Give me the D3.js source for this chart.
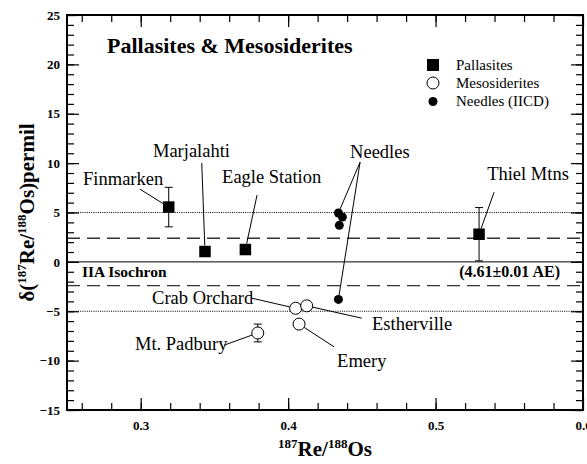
<!DOCTYPE html>
<meta charset="utf-8">
<style>
body { margin: 0; background: #fff; }
svg text { font-family: "Liberation Serif", "Times New Roman", serif; fill: #000; }
</style>
<svg width="587" height="464"></svg>
<script src="https://d3js.org/d3.v7.min.js"></script>
<script>
// pallasites (filled squares)
var palNames = ["Finmarken", "Marjalahti", "Eagle Station", "Thiel Mtns"];
var palX = [0.319, 0.3436, 0.371, 0.5295];
var palY = [5.55, 1.05, 1.25, 2.8];
var palErr = [2.0, 0, 0, 2.7];

// mesosiderites (open circles)
var mesoNames = ["Mt. Padbury", "Crab Orchard", "Emery", "Estherville"];
var mesoX = [0.3794, 0.4051, 0.4074, 0.4126];
var mesoY = [-7.2, -4.7, -6.3, -4.45];
var mesoErr = [0.9, 0, 0, 0];

// Needles (IICD), small filled circles
var needX = [0.4341, 0.4368, 0.4347, 0.4341];
var needY = [4.95, 4.55, 3.7, -3.8];

var xTicks = [0.3, 0.4, 0.5, 0.6];
var yTicks = [-15, -10, -5, 0, 5, 10, 15, 20, 25];
var dottedLevels = [5, -5];
var dashedLevels = [2.4, -2.4];

// annotation text: [label, text x, text y, leader start x, leader start y, target]
var notes = [
  ["Finmarken",     0.2609,  7.77, 0.2995,  7.36, ["p", 0]],
  ["Marjalahti",    0.3083, 10.6,  0.3414, 10.0,  ["p", 1]],
  ["Eagle Station", 0.3552,  7.97, 0.3789,  6.76, ["p", 2]],
  ["Needles",       0.442,  10.5,  0.4488, 10.1,  ["n", 0]],
  ["",              0,       0,    0.4488, 10.1,  ["n", 3]],
  ["Thiel Mtns",    0.535,   8.27, 0.5397,  7.06, ["p", 3]],
  ["Crab Orchard",  0.3077, -4.28, 0.3755, -3.68, ["m", 1]],
  ["Mt. Padbury",   0.2961, -8.94, 0.3565, -8.44, ["m", 0]],
  ["Estherville",   0.4569, -6.92, 0.4499, -5.7,  ["m", 3]],
  ["Emery",         0.4332,-10.66, 0.4311, -8.6,  ["m", 2]]
];

var serif = "'Liberation Serif', 'Times New Roman', serif";
var svg = d3.select("svg"),
    margin = {top: 15, right: 4, bottom: 54, left: 67},
    width = +svg.attr("width") - margin.left - margin.right,
    height = +svg.attr("height") - margin.top - margin.bottom;

var g = svg.append("g").attr("transform", "translate(" + margin.left + "," + margin.top + ")");
var x = d3.scaleLinear().domain([0.25, 0.6]).range([0, width]);
var y = d3.scaleLinear().domain([-15, 25]).range([height, 0]);

var xMinor = d3.range(0.26, 0.6, 0.02).map(function(d) { return +d.toFixed(2); });
var yMinor = d3.range(-15, 26, 1);

// minor ticks (inward on all four sides)
function minorAxis(axis, sc, vals, tr) {
  g.append("g").attr("transform", tr)
    .call(axis(sc).tickValues(vals).tickSize(-7).tickFormat(""))
    .call(function(s) { s.select(".domain").remove(); });
}
minorAxis(d3.axisBottom, x, xMinor, "translate(0," + height + ")");
minorAxis(d3.axisTop, x, xMinor, "translate(0,0)");
minorAxis(d3.axisLeft, y, yMinor, "translate(0,0)");
minorAxis(d3.axisRight, y, yMinor, "translate(" + width + ",0)");

// major ticks
g.append("g").attr("transform", "translate(0," + height + ")")
  .call(d3.axisBottom(x).tickValues(xTicks).tickSize(-12).tickPadding(11).tickFormat(d3.format(".1f")))
  .call(function(s) { s.select(".domain").remove(); });
g.append("g").call(d3.axisTop(x).tickValues(xTicks).tickSize(-12).tickFormat(""))
  .call(function(s) { s.select(".domain").remove(); });
g.append("g")
  .call(d3.axisLeft(y).tickValues(yTicks).tickSize(-12).tickPadding(7).tickFormat(d3.format("d")))
  .call(function(s) { s.select(".domain").remove(); });
g.append("g").attr("transform", "translate(" + width + ",0)")
  .call(d3.axisRight(y).tickValues(yTicks).tickSize(-12).tickFormat(""))
  .call(function(s) { s.select(".domain").remove(); });
g.selectAll(".tick line").attr("stroke", "#000").attr("stroke-width", 1.2);
g.selectAll(".tick text").style("font-family", serif).style("font-weight", "bold").style("font-size", "13px");

// reference lines
g.append("line").attr("x1", 0).attr("x2", width).attr("y1", y(0)).attr("y2", y(0))
  .attr("stroke", "#000").attr("stroke-width", 1);
g.selectAll(".dotted").data(dottedLevels).enter().append("line")
  .attr("x1", 0).attr("x2", width).attr("y1", function(d) { return y(d); }).attr("y2", function(d) { return y(d); })
  .attr("stroke", "#000").attr("stroke-width", 1).attr("stroke-dasharray", "1,1.2");
g.selectAll(".dashed").data(dashedLevels).enter().append("line")
  .attr("x1", 0).attr("x2", width).attr("y1", function(d) { return y(d); }).attr("y2", function(d) { return y(d); })
  .attr("stroke", "#333").attr("stroke-width", 1.4).attr("stroke-dasharray", "13,7");

// frame
g.append("rect").attr("width", width).attr("height", height)
  .attr("fill", "none").attr("stroke", "#000").attr("stroke-width", 2);

// error bars
function errBars(xs, ys, es) {
  xs.forEach(function(xv, i) {
    if (!es[i]) return;
    var cx = x(xv), t = y(ys[i] + es[i]), b = y(ys[i] - es[i]);
    g.append("line").attr("x1", cx).attr("x2", cx).attr("y1", t).attr("y2", b).attr("stroke", "#000");
    [t, b].forEach(function(yy) {
      g.append("line").attr("x1", cx - 4).attr("x2", cx + 4).attr("y1", yy).attr("y2", yy).attr("stroke", "#000");
    });
  });
}
errBars(palX, palY, palErr);
errBars(mesoX, mesoY, mesoErr);

// leaders
var sources = {p: [palX, palY, 6], m: [mesoX, mesoY, 6], n: [needX, needY, 4.5]};
notes.forEach(function(n) {
  var src = sources[n[5][0]], i = n[5][1];
  var px = x(src[0][i]), py = y(src[1][i]);
  var sx = x(n[3]), sy = y(n[4]);
  var dx = sx - px, dy = sy - py, len = Math.sqrt(dx * dx + dy * dy);
  var r = src[2];
  g.append("line").attr("x1", sx).attr("y1", sy)
    .attr("x2", px + dx / len * r).attr("y2", py + dy / len * r)
    .attr("stroke", "#000").attr("stroke-width", 1);
  if (n[0]) {
    g.append("text").attr("x", x(n[1])).attr("y", y(n[2]))
      .style("font-size", "18.5px").text(n[0]);
  }
});

// markers
palX.forEach(function(xv, i) {
  g.append("rect").attr("x", x(xv) - 5.75).attr("y", y(palY[i]) - 5.75)
    .attr("width", 11.5).attr("height", 11.5).attr("fill", "#000");
});
mesoX.forEach(function(xv, i) {
  g.append("circle").attr("cx", x(xv)).attr("cy", y(mesoY[i])).attr("r", 6)
    .attr("fill", "#fff").attr("stroke", "#000").attr("stroke-width", 1);
});
needX.forEach(function(xv, i) {
  g.append("circle").attr("cx", x(xv)).attr("cy", y(needY[i])).attr("r", 4.5).attr("fill", "#000");
});

// title
g.append("text").attr("x", 40).attr("y", 38).style("font-size", "22px").style("font-weight", "bold")
  .text("Pallasites & Mesosiderites");

// legend
var leg = g.append("g").attr("transform", "translate(366,50)");
leg.append("rect").attr("x", -6).attr("y", -6).attr("width", 12).attr("height", 12).attr("fill", "#000");
leg.append("circle").attr("cx", 0).attr("cy", 18).attr("r", 6).attr("fill", "#fff").attr("stroke", "#000");
leg.append("circle").attr("cx", 0).attr("cy", 36.5).attr("r", 4.5).attr("fill", "#000");
["Pallasites", "Mesosiderites", "Needles (IICD)"].forEach(function(t, i) {
  leg.append("text").attr("x", 23).attr("y", 5 + i * 18).style("font-size", "15px").text(t);
});

// isochron labels
g.append("text").attr("x", 15).attr("y", y(0) + 15).style("font-size", "15.5px").style("font-weight", "bold")
  .text("IIA Isochron");
g.append("text").attr("x", width - 23).attr("y", y(0) + 15).attr("text-anchor", "end")
  .style("font-size", "16px").style("font-weight", "bold").text("(4.61\u00b10.01 AE)");

// axis titles
var xt = svg.append("text").attr("x", margin.left + width / 2).attr("y", 456)
  .attr("text-anchor", "middle").style("font-weight", "bold").style("font-size", "21px");
xt.append("tspan").attr("font-size", "13px").attr("dy", -8).text("187");
xt.append("tspan").attr("dy", 8).text("Re/");
xt.append("tspan").attr("font-size", "13px").attr("dy", -8).text("188");
xt.append("tspan").attr("dy", 8).text("Os");

var yt = svg.append("text").attr("transform", "translate(34," + (margin.top + height / 2) + ") rotate(-90)")
  .attr("text-anchor", "middle").style("font-weight", "bold").style("font-size", "21px");
yt.append("tspan").text("\u03b4(");
yt.append("tspan").attr("font-size", "13px").attr("dy", -8).text("187");
yt.append("tspan").attr("dy", 8).text("Re/");
yt.append("tspan").attr("font-size", "13px").attr("dy", -8).text("188");
yt.append("tspan").attr("dy", 8).text("Os)permil");
</script>
